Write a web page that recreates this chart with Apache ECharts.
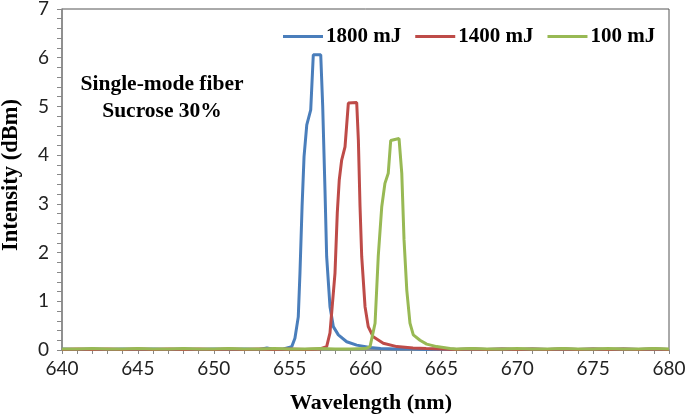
<!DOCTYPE html>
<html>
<head>
<meta charset="utf-8">
<script src="https://cdn.jsdelivr.net/npm/echarts@6/dist/echarts.min.js"></script>
<style>html,body{margin:0;padding:0;background:#fff}#c{width:685px;height:414px}</style>
</head>
<body>
<div id="c"></div>
<script>
const seriesNames = ['1800 mJ', '1400 mJ', '100 mJ'];
const xTicks = [640, 645, 650, 655, 660, 665, 670, 675, 680];
const yTicks = [0, 1, 2, 3, 4, 5, 6, 7];

const blue1800 = [
  [640,0.02],[641,0.01],[642,0.02],[643,0.01],[644,0.02],[645,0.01],[646,0.02],[647,0.01],
  [648,0.02],[649,0.01],[650,0.02],[651,0.01],[652,0.02],[653,0.01],[653.5,0.04],[654,0.01],
  [654.6,0.02],[655.14,0.07],[655.35,0.24],[655.57,0.68],[655.68,1.57],[655.82,2.94],
  [655.95,3.97],[656.13,4.62],[656.39,4.93],[656.56,6.06],[657.05,6.06],[657.18,5.0],
  [657.33,3.29],[657.44,1.92],[657.66,0.89],[657.88,0.48],[658.21,0.31],[658.76,0.17],
  [659.42,0.10],[660.3,0.05],[661,0.03],[662,0.02],[663,0.02],[664,0.01],[665,0.02],
  [666,0.01],[667,0.02],[668,0.01],[669,0.02],[670,0.01],[671,0.02],[672,0.01],[673,0.02],
  [674,0.01],[675,0.02],[676,0.01],[677,0.02],[678,0.01],[679,0.02],[680,0.01]
];
const red1400 = [
  [640,0.01],[641,0.02],[642,0.01],[643,0.02],[644,0.01],[645,0.02],[646,0.01],[647,0.02],
  [648,0.01],[649,0.02],[650,0.01],[651,0.02],[652,0.01],[653,0.02],[654,0.01],[655,0.02],
  [656,0.01],[657,0.02],[657.44,0.07],[657.66,0.35],[657.99,1.58],[658.14,2.81],
  [658.27,3.49],[658.43,3.9],[658.65,4.17],[658.87,5.07],[659.42,5.08],[659.53,4.31],
  [659.64,2.94],[659.75,1.92],[659.97,0.89],[660.18,0.48],[660.51,0.27],[661.17,0.14],
  [662.06,0.07],[663.13,0.04],[664,0.03],[665,0.02],[666,0.01],[667,0.02],[668,0.01],
  [669,0.02],[670,0.01],[671,0.02],[672,0.01],[673,0.02],[674,0.01],[675,0.02],[676,0.01],
  [677,0.02],[678,0.01],[679,0.02],[680,0.01]
];
const green100 = [
  [640,0.02],[641,0.02],[642,0.03],[643,0.02],[644,0.02],[645,0.03],[646,0.02],[647,0.02],
  [648,0.03],[649,0.02],[650,0.02],[651,0.03],[652,0.02],[653,0.02],[654,0.03],[655,0.02],
  [656,0.02],[657,0.03],[658,0.02],[659,0.02],[660,0.03],[660.3,0.07],[660.63,0.55],
  [660.84,1.92],[661.07,2.94],[661.28,3.42],[661.5,3.63],[661.66,4.3],[661.73,4.34],
  [662.21,4.34],[662.39,3.63],[662.54,2.26],[662.72,1.23],[662.93,0.55],[663.15,0.31],
  [663.59,0.2],[664.03,0.12],[664.69,0.07],[665.57,0.03],[666,0.02],[667,0.03],[668,0.02],
  [669,0.02],[670,0.03],[671,0.02],[672,0.02],[673,0.03],[674,0.02],[675,0.02],[676,0.03],
  [677,0.02],[678,0.02],[679,0.03],[680,0.02]
];
const colors = ['#4A7EBB', '#BE4B48', '#98B954'];
const serif = '"Liberation Serif","Times New Roman",serif';

const chart = echarts.init(document.getElementById('c'), null, {renderer: 'canvas'});
chart.setOption({
  animation: false,
  color: colors,
  grid: {left: 62, right: 16, top: 9, bottom: 64, containLabel: false, outerBoundsMode: 'none',
         show: true, borderColor: '#555', borderWidth: 1, backgroundColor: 'transparent'},
  legend: {
    data: seriesNames,
    left: 278, top: 21,
    icon: 'rect', itemWidth: 40, itemHeight: 3, itemGap: 14,
    textStyle: {fontFamily: serif, fontWeight: 'bold', fontSize: 21, color: '#000', padding: [0,0,0,-2]}
  },
  graphic: [
    {type: 'text', x: 162, y: 84, style: {text: 'Single-mode fiber', font: 'bold 21.5px ' + serif, fill: '#000', textAlign: 'center', textVerticalAlign: 'middle'}},
    {type: 'text', x: 162, y: 111, style: {text: 'Sucrose 30%', font: 'bold 21.5px ' + serif, fill: '#000', textAlign: 'center', textVerticalAlign: 'middle'}}
  ],
  xAxis: {
    type: 'value', min: xTicks[0], max: xTicks[xTicks.length-1], interval: 5,
    name: 'Wavelength (nm)', nameLocation: 'middle', nameGap: 42,
    nameTextStyle: {fontFamily: serif, fontWeight: 'bold', fontSize: 22, color: '#000', padding: [0,0,0,11]},
    axisLine: {show: true, lineStyle: {color: '#888', width: 1.5}},
    axisTick: {show: true, length: 4, lineStyle: {color: '#888'}},
    minorTick: {show: true, splitNumber: 5, length: 4, lineStyle: {color: '#888'}},
    splitLine: {show: false},
    axisLabel: {fontFamily: 'Lato', fontSize: 19, color: '#222', margin: 9}
  },
  yAxis: {
    type: 'value', min: yTicks[0], max: yTicks[yTicks.length-1], interval: 1,
    name: 'Intensity (dBm)', nameLocation: 'middle', nameGap: 39, nameRotate: 90,
    nameTextStyle: {fontFamily: serif, fontWeight: 'bold', fontSize: 22.5, color: '#000', padding: [0,0,0,9]},
    axisLine: {show: true, lineStyle: {color: '#888', width: 1.5}},
    axisTick: {show: true, length: 5, lineStyle: {color: '#888'}},
    minorTick: {show: true, splitNumber: 5, length: 5, lineStyle: {color: '#888'}},
    splitLine: {show: false},
    axisLabel: {fontFamily: 'Lato', fontSize: 19, color: '#222', margin: 13}
  },
  series: [
    {name: seriesNames[0], type: 'line', data: blue1800, showSymbol: false, lineStyle: {width: 3, color: colors[0]}},
    {name: seriesNames[1], type: 'line', data: red1400, showSymbol: false, lineStyle: {width: 3, color: colors[1]}},
    {name: seriesNames[2], type: 'line', data: green100, showSymbol: false, lineStyle: {width: 3, color: colors[2]}}
  ]
});
</script>
</body>
</html>
